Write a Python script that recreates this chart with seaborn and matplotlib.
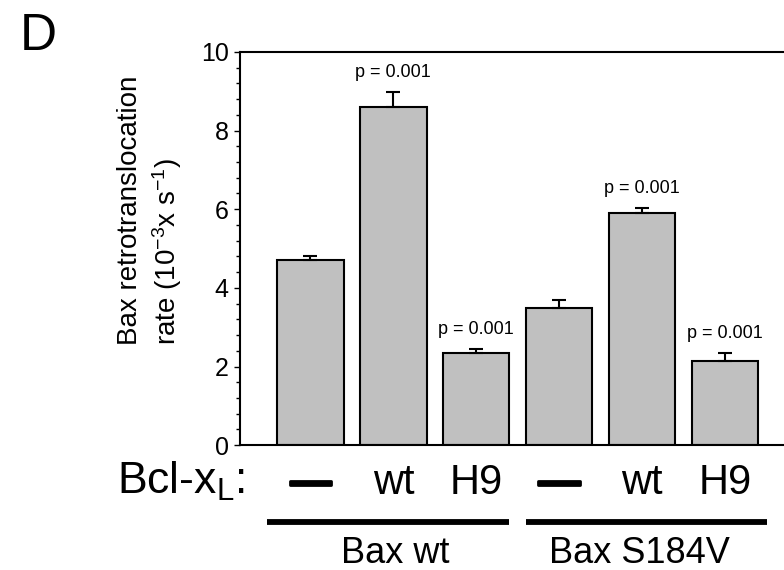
import matplotlib
matplotlib.use('Agg')
import matplotlib.pyplot as plt
import matplotlib.patheffects as pe
from matplotlib.ticker import MultipleLocator
import numpy as np
import pandas as pd
import seaborn as sns

# Bcl-xL condition under each bar, and the Bax variant groups
bclxl = ['—', 'wt', 'H9', '—', 'wt', 'H9']
bax = ['Bax wt', 'Bax wt', 'Bax wt', 'Bax S184V', 'Bax S184V', 'Bax S184V']
groups = ['Bax wt', 'Bax S184V']

# retrotranslocation rate (10^-3 s^-1) and SEM
rate = [4.7, 8.6, 2.35, 3.5, 5.9, 2.15]
sem = [0.1, 0.38, 0.1, 0.2, 0.12, 0.2]
pvals = ['', 'p = 0.001', 'p = 0.001', '', 'p = 0.001', 'p = 0.001']

sns.set_style('ticks')
plt.rcParams['font.family'] = ['Liberation Sans', 'DejaVu Sans']
plt.rcParams['mathtext.default'] = 'regular'
for k in ['text.color', 'axes.labelcolor', 'xtick.color', 'ytick.color',
          'axes.edgecolor']:
    plt.rcParams[k] = 'black'

df = pd.DataFrame({'cond': [b + ' / ' + c for b, c in zip(bax, bclxl)],
                   'rate': rate})

fig = plt.figure(figsize=(7.84, 5.70), dpi=100)
ax = fig.add_axes([0.306, 0.219, 0.694, 0.690])

sns.barplot(data=df, x='cond', y='rate', color='#c0c0c0', saturation=1,
            edgecolor='black', linewidth=1.5, width=0.8, ax=ax)
xpos = np.arange(len(rate))
ax.errorbar(xpos, rate, yerr=[np.zeros(len(sem)), sem], fmt='none',
            ecolor='black', elinewidth=1.5, capsize=5, capthick=1.5, zorder=1)

for x, r, e, p in zip(xpos, rate, sem, pvals):
    if p:
        ax.text(x, r + e + 0.5, p, ha='center', va='center', fontsize=13)

ax.set_xlim(-0.85, 5.71)
ax.set_ylim(0, 10)
ax.yaxis.set_major_locator(MultipleLocator(2))
ax.yaxis.set_minor_locator(MultipleLocator(0.4))
ax.tick_params(axis='y', which='major', direction='out', length=4, width=1,
               labelsize=18, pad=4)
ax.tick_params(axis='y', which='minor', direction='out', length=3, width=1)
ax.set_ylabel('')
ax.set_xlabel('')
for s in ['left', 'bottom', 'top']:
    ax.spines[s].set_linewidth(1.5)
ax.spines['right'].set_visible(False)

ax.set_xticks(xpos)
ax.set_xticklabels(bclxl, fontsize=30)
for lab in ax.get_xticklabels():
    if lab.get_text() == '—':
        lab.set_fontweight('bold')
        lab.set_path_effects([pe.withStroke(linewidth=2, foreground='black')])
ax.tick_params(axis='x', length=0, pad=13)

# bars under the Bcl-xL labels grouping the Bax variants
trans = ax.get_xaxis_transform()
gx = [xpos[:3].mean() + 0.02, xpos[3:].mean() - 0.03]
for g, c, (x0, x1) in zip(groups, gx, [(-0.52, 2.39), (2.6, 5.51)]):
    ax.plot([x0, x1], [-0.195, -0.195], color='black', lw=4.2,
            solid_capstyle='butt', transform=trans, clip_on=False)
    ax.text(c, -0.275, g, transform=trans, ha='center', va='center',
            fontsize=26)

fig.text(0.313, 0.155, 'Bcl-x$_{L}$:', ha='right', va='center', fontsize=32)

fig.text(0.192, 0.395,
         'Bax retrotranslocation\nrate (10$^{-3}$x s$^{-1}$)',
         rotation=90, ha='center', va='bottom', multialignment='left',
         fontsize=20, linespacing=1.3)

fig.text(0.025, 0.912, 'D', fontsize=37, va='baseline', ha='left')

fig.savefig('out.png', dpi=100)
